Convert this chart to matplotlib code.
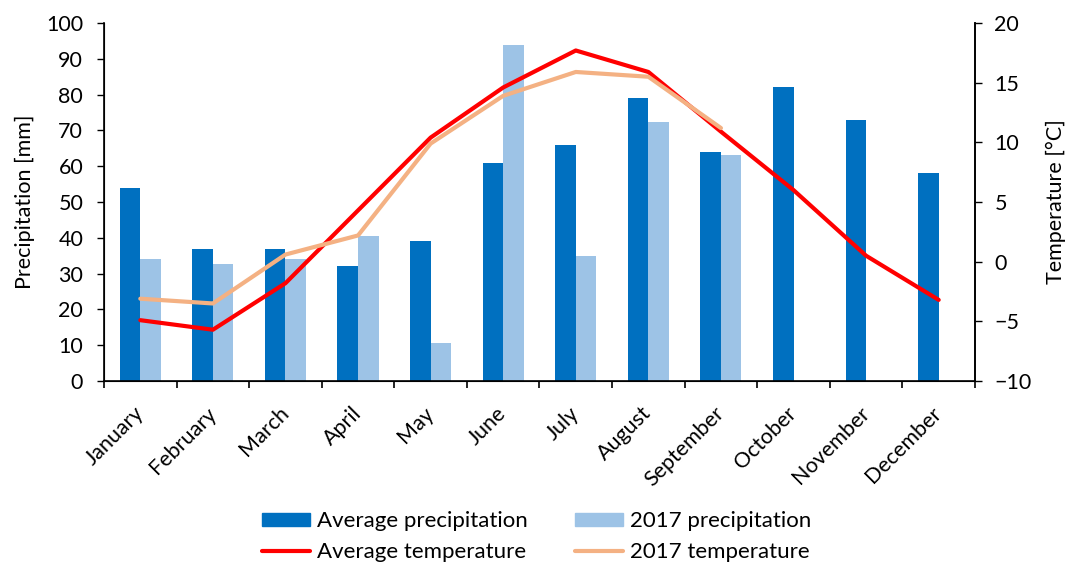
import matplotlib
matplotlib.use("Agg")
import matplotlib.pyplot as plt
import numpy as np
from matplotlib.patches import Patch
from matplotlib.lines import Line2D

months = ["January", "February", "March", "April", "May", "June", "July",
          "August", "September", "October", "November", "December"]
avg_precip = [54, 37, 37, 32, 39, 61, 66, 79, 64, 82, 73, 58]
precip_2017 = [34, 32.6, 34, 40.4, 10.6, 93.8, 35, 72.4, 63.2]
avg_temp = [-4.9, -5.7, -1.8, 4.3, 10.4, 14.6, 17.7, 15.9, 10.9, 6.0, 0.5, -3.2]
temp_2017 = [-3.1, -3.5, 0.6, 2.2, 9.9, 13.9, 15.9, 15.5, 11.2]

plt.rcParams["font.family"] = ["Lato", "DejaVu Sans"]

C_AVG_P = "#0070C0"
C_2017_P = "#9DC3E6"
C_AVG_T = "#FF0000"
C_2017_T = "#F4B183"

fig = plt.figure(figsize=(10.7, 5.62), dpi=100)
ax = fig.add_axes([0.0972, 0.322, 0.8140, 0.637])

x = np.arange(len(months))
bw = 0.283
ax.bar(x - bw / 2, avg_precip, width=bw, color=C_AVG_P, zorder=2)
ax.bar(np.arange(len(precip_2017)) + bw / 2, precip_2017, width=bw,
       color=C_2017_P, zorder=2)

ax.set_xlim(-0.5, len(months) - 0.5)
ax.set_ylim(0, 100)
ax.set_yticks(np.arange(0, 101, 10))
ax.set_ylabel("Precipitation [mm]", fontsize=15.5, labelpad=8)

# major ticks on category boundaries, labels on the centres
ax.set_xticks(np.arange(-0.5, len(months), 1.0))
ax.set_xticklabels([])
ax.set_xticks(x, minor=True)
ax.set_xticklabels(months, minor=True, rotation=45, ha="right",
                   va="center", rotation_mode="anchor", fontsize=15.5)
ax.tick_params(axis="x", which="minor", length=0, pad=21)
ax.tick_params(axis="x", which="major", length=5, width=1.2, direction="out")
ax.tick_params(axis="y", length=5, width=1, direction="out", labelsize=15.5,
               pad=10)
ax.spines["top"].set_visible(False)
for s in ("left", "bottom", "right"):
    ax.spines[s].set_linewidth(1.2)

ax2 = ax.twinx()
ax2.plot(x, avg_temp, color=C_AVG_T, lw=3.0, solid_capstyle="round", zorder=3)
ax2.plot(np.arange(len(temp_2017)), temp_2017, color=C_2017_T, lw=3.0,
         solid_capstyle="round", zorder=4)
ax2.set_ylim(-10, 20)
ax2.set_yticks(np.arange(-10, 21, 5))
ax2.tick_params(axis="y", length=5, width=1, direction="out", labelsize=15.5,
                pad=9)
ax2.set_ylabel("Temperature [°C]", fontsize=15.5, labelpad=10)
ax2.spines["top"].set_visible(False)
ax2.spines["right"].set_linewidth(1.2)

# ncol=2 fills column by column, so precipitation entries go first in each column
handles = [
    Patch(color=C_AVG_P, label="Average precipitation"),
    Line2D([], [], color=C_AVG_T, lw=3.0, solid_capstyle="round",
           label="Average temperature"),
    Patch(color=C_2017_P, label="2017 precipitation"),
    Line2D([], [], color=C_2017_T, lw=3.0, solid_capstyle="round",
           label="2017 temperature"),
]
fig.legend(handles=handles, loc="lower center", bbox_to_anchor=(0.5014, -0.036),
           ncol=2, frameon=False, fontsize=16, handlelength=2.2,
           handleheight=0.55, handletextpad=0.3, columnspacing=2.1,
           labelspacing=0.5)

fig.savefig("out.png", dpi=100)
